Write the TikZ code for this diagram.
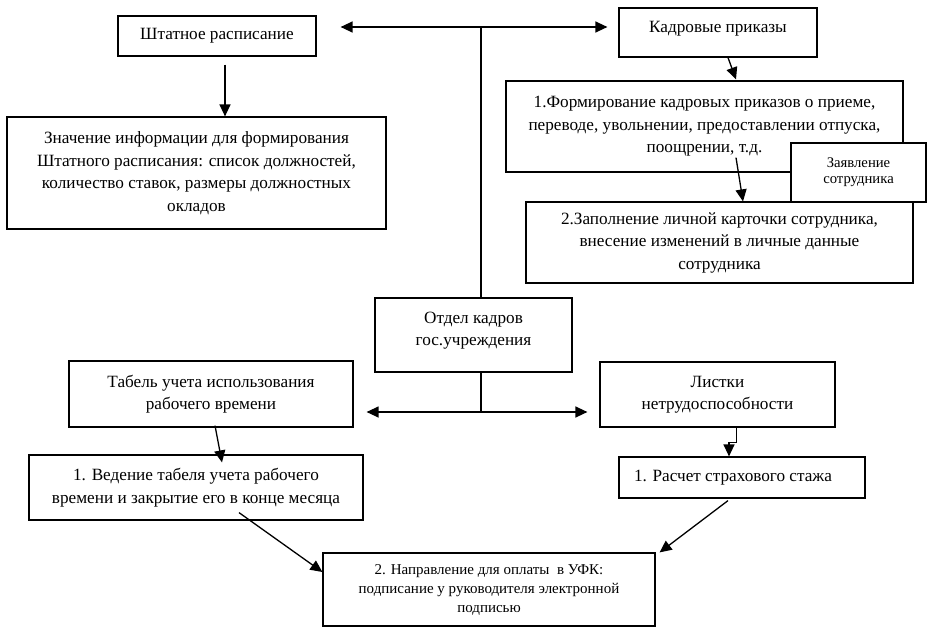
\documentclass[tikz,border=0pt]{standalone}
\usepackage{fontspec}
\setmainfont{Liberation Serif}
\usetikzlibrary{arrows.meta, positioning, calc}
\tikzset{
    box/.style={draw, line width=1.2pt, fill=white, align=center, inner sep=0pt,
        font=\fontsize{17.2}{22.5}\selectfont},
    smallbox/.style={box, font=\fontsize{14.7}{16}\selectfont},
    midbox/.style={box, font=\fontsize{15}{19}\selectfont},
    arr/.style={line width=1.3pt, -{Triangle[length=12pt,width=11pt]}},
    darr/.style={line width=1.3pt, {Triangle[length=12pt,width=11pt]}-{Triangle[length=12pt,width=11pt]}},
    link/.style={line width=1.3pt}
}
\begin{document}
\begin{tikzpicture}[x=1pt, y=-1pt]
    \useasboundingbox (0,0) rectangle (931,632);

    % upper left branch
    \node[box, minimum width=198pt, minimum height=40pt] (shtat) at (217,36) {Штатное расписание};
    \node[box, minimum width=379pt, minimum height=112pt] (znach) at (196.5,173)
        {Значение информации для формирования\\Штатного расписания: список должностей,\\количество ставок, размеры должностных\\окладов};

    % upper right branch
    \node[box, minimum width=198pt, minimum height=49pt] (kadr) at (718,32.5) {Кадровые приказы\\[-12pt]\mbox{}};
    \node[box, minimum width=397pt, minimum height=91pt] (form) at (704.5,126.5)
        {1.Формирование кадровых приказов о приеме,\\переводе, увольнении, предоставлении отпуска,\\поощрении, т.д.};
    \node[box, minimum width=387pt, minimum height=81pt] (zapoln) at (719.5,242.5)
        {2.Заполнение личной карточки сотрудника,\\внесение изменений в личные данные\\сотрудника};
    \node[smallbox, minimum width=135pt, minimum height=59pt] (zayav) at (858.5,172.5) {Заявление\\сотрудника};

    % centre
    \node[box, minimum width=197pt, minimum height=74pt] (otdel) at (473.5,335)
        {Отдел кадров\\гос.учреждения\\[-10pt]\mbox{}};
    \coordinate (hubtop) at (481,27);
    \coordinate (hubbot) at (481,412);

    % lower left branch
    \node[box, minimum width=284pt, minimum height=66pt] (tabel) at (211,394) {Табель учета использования\\рабочего времени};
    \node[box, minimum width=334pt, minimum height=65pt] (veden) at (196,487.5)
        {1. Ведение табеля учета рабочего\\времени и закрытие его в конце месяца};

    % lower right branch
    \node[box, minimum width=235pt, minimum height=65pt] (listki) at (717.5,394.5) {Листки\\нетрудоспособности};
    \node[box, minimum width=246pt, minimum height=41pt] (raschet) at (742,477.5) {1. Расчет страхового стажа\hspace{18pt}};

    % bottom
    \node[midbox, minimum width=332pt, minimum height=73pt] (naprav) at (489,589.5)
        {2. Направление для оплаты \ в УФК:\\подписание у руководителя электронной\\подписью};

    % hub lines
    \draw[link] (hubtop) -- (otdel.north -| hubtop);
    \draw[darr] ([xshift=24pt]hubtop -| shtat.east) -- ([xshift=-11pt]hubtop -| kadr.west);
    \draw[link] (otdel.south -| hubbot) -- (hubbot);
    \draw[darr] ([xshift=13pt]hubbot -| tabel.east) -- ([xshift=-12pt]hubbot -| listki.west);

    % branch arrows
    \draw[arr] ([xshift=8pt,yshift=-8pt]shtat.south) -- ([xshift=28.5pt]znach.north);
    \draw[arr] ([xshift=10pt]kadr.south) -- ([xshift=31.5pt,yshift=1pt]form.north);
    \draw[arr] ([xshift=31.5pt,yshift=15pt]form.south) -- ([xshift=23.5pt]zapoln.north);
    \draw[arr] ([xshift=4pt,yshift=2pt]tabel.south) -- ([xshift=26pt,yshift=-8pt]veden.north);
    \draw[arr] ([xshift=43pt,yshift=8pt]veden.south) -- ([yshift=17.5pt]naprav.west);
    \draw[arr] ([xshift=19pt]listki.south) |- ++(0,15) -| ([xshift=11.5pt]listki.south |- raschet.north);
    \draw[arr] ([xshift=-14pt,yshift=-2pt]raschet.south) -- ([xshift=4pt]naprav.north east);
\end{tikzpicture}
\end{document}
